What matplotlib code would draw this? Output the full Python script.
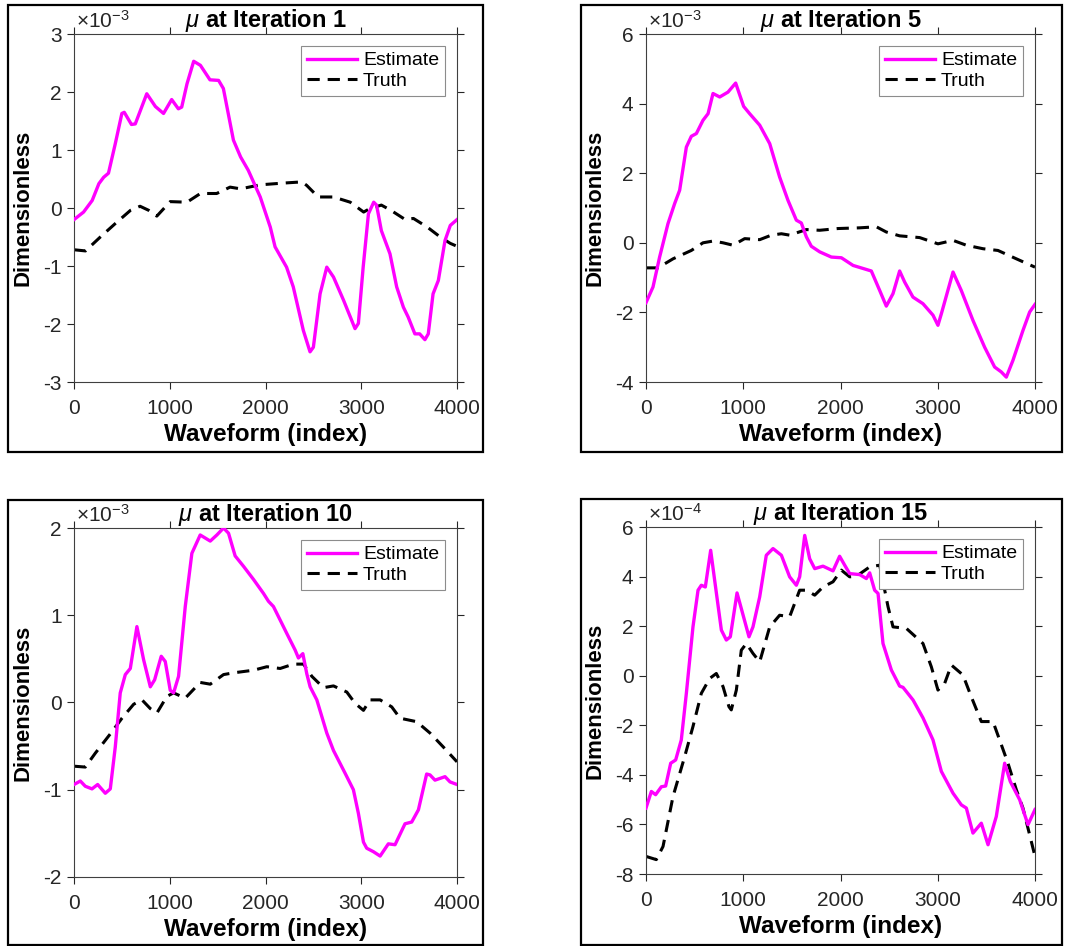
import matplotlib
matplotlib.use("Agg")
import matplotlib.pyplot as plt
from matplotlib.patches import Rectangle

plt.rcParams['font.family'] = ['Liberation Sans', 'DejaVu Sans']
plt.rcParams['mathtext.fontset'] = 'custom'
plt.rcParams['mathtext.rm'] = 'Liberation Sans'
plt.rcParams['mathtext.it'] = 'Liberation Sans:italic'
plt.rcParams['axes.unicode_minus'] = False

# values, y in units of the panel's scale
it1_est_x = [0, 100, 190, 260, 310, 360, 430, 500, 525, 600, 640, 760, 850, 935, 1020, 1090, 1125, 1180, 1250,
             1320, 1420, 1510, 1560, 1665, 1740, 1820, 1945, 2050, 2100, 2220, 2290, 2395, 2465, 2500, 2570, 2640,
             2710, 2815, 2935, 2970, 3020, 3075, 3130, 3160, 3210, 3300, 3370, 3440, 3490, 3560, 3610, 3665, 3700,
             3750, 3805, 3875, 3930, 4000]
it1_est_y = [-0.2, -0.07, 0.13, 0.42, 0.53, 0.6, 1.1, 1.63, 1.65, 1.44, 1.45, 1.97, 1.75, 1.63, 1.87, 1.71, 1.74, 2.14,
             2.53, 2.46, 2.21, 2.2, 2.06, 1.17, 0.88, 0.65, 0.19, -0.33, -0.67, -1.02, -1.36, -2.11, -2.48, -2.4,
             -1.48, -1.02, -1.19, -1.59, -2.08, -1.99, -1.02, -0.1, 0.1, 0.05, -0.39, -0.79, -1.36, -1.71, -1.88,
             -2.17, -2.17, -2.27, -2.17, -1.48, -1.25, -0.56, -0.3, -0.2]
it1_truth_x = [0, 120, 275, 430, 590, 690, 780, 865, 1005, 1180, 1320, 1490, 1630, 1740, 1945, 2190, 2380, 2430,
               2550, 2710, 2885, 3025, 3090, 3210, 3310, 3460, 3545, 3690, 3825, 3930, 4000]
it1_truth_y = [-0.72, -0.74, -0.5, -0.27, -0.04, 0.03, -0.04, -0.14, 0.11, 0.1, 0.25, 0.25, 0.36, 0.33, 0.4, 0.43,
               0.45, 0.39, 0.19, 0.19, 0.1, -0.07, -0.01, 0.05, -0.04, -0.2, -0.18, -0.33, -0.5, -0.61, -0.66]

it5_est_x = [0, 72, 140, 226, 295, 346, 415, 466, 518, 586, 638, 689, 758, 843, 922, 1004, 1066, 1169, 1272, 1374,
             1460, 1546, 1597, 1649, 1700, 1786, 1906, 2009, 2129, 2317, 2403, 2471, 2540, 2608, 2660, 2745, 2848,
             2951, 3002, 3037, 3157, 3242, 3362, 3482, 3585, 3653, 3705, 3773, 3876, 3945, 4000]
it5_est_y = [-1.72, -1.27, -0.41, 0.55, 1.13, 1.51, 2.75, 3.06, 3.14, 3.52, 3.71, 4.29, 4.19, 4.33, 4.59, 3.92, 3.71,
             3.38, 2.85, 1.89, 1.22, 0.65, 0.57, 0.17, -0.1, -0.26, -0.41, -0.43, -0.65, -0.81, -1.37, -1.82, -1.46,
             -0.81, -1.13, -1.56, -1.75, -2.08, -2.37, -2.04, -0.84, -1.37, -2.23, -3.0, -3.57, -3.71, -3.86, -3.38,
             -2.52, -1.99, -1.77]
it5_truth_x = [0, 123, 278, 466, 586, 689, 792, 895, 1015, 1169, 1289, 1392, 1477, 1649, 1786, 1974, 2197, 2369,
               2471, 2608, 2814, 3002, 3157, 3294, 3465, 3619, 3808, 4000]
it5_truth_y = [-0.72, -0.72, -0.46, -0.22, 0.0, 0.05, 0.0, -0.07, 0.12, 0.09, 0.22, 0.26, 0.22, 0.38, 0.36, 0.41,
               0.43, 0.46, 0.31, 0.2, 0.15, -0.03, 0.07, -0.07, -0.17, -0.22, -0.46, -0.70]

it10_est_x = [0, 66, 118, 188, 247, 327, 379, 431, 483, 536, 588, 657, 727, 797, 842, 911, 953, 1005, 1040, 1092,
              1162, 1231, 1318, 1423, 1492, 1562, 1614, 1683, 1771, 1875, 1979, 2031, 2083, 2223, 2310, 2344, 2390,
              2431, 2466, 2536, 2640, 2710, 2831, 2918, 2970, 3023, 3057, 3127, 3197, 3283, 3353, 3457, 3527, 3597,
              3683, 3718, 3770, 3875, 3927, 4000]
it10_est_y = [-0.94, -0.9, -0.96, -0.99, -0.94, -1.04, -0.99, -0.51, 0.11, 0.32, 0.39, 0.87, 0.49, 0.18, 0.26, 0.53,
              0.47, 0.14, 0.11, 0.3, 1.1, 1.71, 1.92, 1.85, 1.92, 2.0, 1.94, 1.68, 1.56, 1.41, 1.25, 1.16, 1.1, 0.79,
              0.6, 0.51, 0.56, 0.33, 0.18, 0.03, -0.35, -0.55, -0.81, -1.0, -1.27, -1.6, -1.67, -1.71, -1.76, -1.62,
              -1.63, -1.39, -1.37, -1.23, -0.82, -0.83, -0.89, -0.85, -0.91, -0.94]
it10_truth_x = [0, 118, 223, 379, 501, 623, 710, 797, 866, 970, 1040, 1162, 1318, 1423, 1562, 1666, 1875, 2014, 2153,
                2292, 2397, 2484, 2605, 2710, 2849, 2936, 3023, 3092, 3197, 3318, 3405, 3579, 3718, 3857, 4000]
it10_truth_y = [-0.73, -0.74, -0.58, -0.36, -0.18, -0.02, 0.03, -0.07, -0.12, 0.07, 0.11, 0.05, 0.23, 0.21, 0.32,
                0.34, 0.37, 0.41, 0.39, 0.44, 0.44, 0.3, 0.17, 0.19, 0.12, -0.01, -0.09, 0.03, 0.03, -0.05, -0.18,
                -0.22, -0.35, -0.51, -0.68]

it15_est_x = [0, 55, 99, 158, 202, 254, 305, 363, 415, 483, 535, 569, 610, 665, 706, 775, 826, 867, 936, 980, 1059,
              1100, 1169, 1237, 1306, 1392, 1477, 1546, 1580, 1632, 1683, 1735, 1820, 1923, 1991, 2043, 2094, 2197,
              2266, 2300, 2351, 2386, 2437, 2523, 2608, 2643, 2746, 2848, 2951, 3037, 3157, 3242, 3294, 3362, 3448,
              3517, 3602, 3688, 3746, 3842, 3928, 4000]
it15_est_y = [-5.34, -4.67, -4.8, -4.48, -4.45, -3.53, -3.4, -2.59, -0.71, 1.97, 3.45, 3.65, 3.58, 5.06, 3.85, 1.84,
              1.44, 1.57, 3.34, 2.71, 1.57, 1.97, 3.18, 4.86, 5.13, 4.86, 3.99, 3.65, 3.99, 5.66, 4.72, 4.32, 4.42,
              4.23, 4.82, 4.46, 4.12, 4.08, 3.92, 4.15, 3.45, 3.32, 1.30, 0.23, -0.42, -0.47, -0.98, -1.7, -2.59,
              -3.86, -4.74, -5.21, -5.34, -6.35, -5.95, -6.82, -5.68, -3.53, -4.27, -5.0, -6.01, -5.4]
it15_truth_x = [0, 106, 175, 278, 398, 483, 569, 655, 723, 792, 853, 877, 929, 980, 1032, 1100, 1169, 1272, 1374,
                1477, 1580, 1649, 1735, 1820, 1923, 2009, 2094, 2163, 2300, 2403, 2489, 2540, 2677, 2848, 2934, 3002,
                3071, 3140, 3259, 3345, 3448, 3568, 3636, 3722, 3808, 3876, 3945, 4000]
it15_truth_y = [-7.29, -7.42, -6.89, -4.87, -3.26, -2.05, -0.71, -0.11, 0.09, -0.44, -1.25, -1.38, -0.58, 1.03, 1.3,
                0.9, 0.56, 1.97, 2.44, 2.38, 3.45, 3.45, 3.25, 3.58, 3.79, 4.26, 3.99, 4.01, 4.39, 4.46, 2.78, 1.97,
                1.91, 1.30, 0.36, -0.58, -0.31, 0.43, 0.03, -0.85, -1.85, -1.85, -2.59, -3.53, -4.6, -5.34, -6.42,
                -7.29]

iterations = [1, 5, 10, 15]
exponents = [-3, -3, -3, -4]
y_limits = [(-3, 3), (-4, 6), (-2, 2), (-8, 6)]
y_steps = [1, 2, 1, 2]
x_ticks = [0, 1000, 2000, 3000, 4000]

W, H = 1073, 946
fig = plt.figure(figsize=(W / 100, H / 100), dpi=100)

# axes boxes and outer frames in pixels (left, top, right, bottom)
axes_px = [(74, 34, 457, 382), (646, 34, 1035, 382), (74, 528, 457, 877), (646, 527, 1035, 874)]
frames_px = [(8, 5, 483, 452), (581, 5, 1062, 452), (8, 500, 483, 945), (581, 499, 1062, 945)]

series = [
    (it1_est_x, it1_est_y, it1_truth_x, it1_truth_y),
    (it5_est_x, it5_est_y, it5_truth_x, it5_truth_y),
    (it10_est_x, it10_est_y, it10_truth_x, it10_truth_y),
    (it15_est_x, it15_est_y, it15_truth_x, it15_truth_y),
]

grey = '#262626'

for i in range(4):
    l, t, r, b = axes_px[i]
    ax = fig.add_axes([l / W, 1 - b / H, (r - l) / W, (b - t) / H])
    ex, ey, tx, ty = series[i]
    ax.plot(ex, ey, color='#ff00ff', lw=2.4, solid_joinstyle='round', label='Estimate', zorder=3)
    ax.plot(tx, ty, color='black', lw=2.2, dashes=(4, 2.6), label='Truth', zorder=2)

    lo, hi = y_limits[i]
    ax.set_xlim(0, 4000)
    ax.set_ylim(lo, hi)
    ax.set_xticks(x_ticks)
    ax.set_yticks(list(range(lo, hi + 1, y_steps[i])))
    ax.tick_params(direction='out', length=5, width=0.8, colors=grey, labelsize=15,
                   top=True, right=True)
    ax.tick_params(axis='x', pad=7)
    ax.tick_params(axis='y', pad=4)
    for s in ax.spines.values():
        s.set_color('#404040')
        s.set_linewidth(0.8)

    ax.set_xlabel('Waveform (index)', fontsize=17.5, fontweight='bold', labelpad=4)
    ax.set_ylabel('Dimensionless', fontsize=16, fontweight='bold', labelpad=7)
    ax.set_title(r'$\mu$ at Iteration %d' % iterations[i], fontsize=17, fontweight='bold', pad=5)
    ax.text(0.005, 1.005, r'$\times10^{%d}$' % exponents[i], transform=ax.transAxes,
            ha='left', va='bottom', fontsize=15, color=grey)

    leg = ax.legend(loc='upper right', bbox_to_anchor=(1 - 12 / (r - l), 1 - 12 / (b - t)),
                    borderaxespad=0, fontsize=14, fancybox=False, framealpha=1,
                    edgecolor='#8c8c8c', handlelength=2.6, handletextpad=0.3,
                    labelspacing=0.15, borderpad=0.3)
    leg.get_frame().set_linewidth(0.8)
    leg.set_zorder(5)

    fl, ft, fr, fb = frames_px[i]
    fig.patches.append(Rectangle((fl / W, 1 - fb / H), (fr - fl) / W, (fb - ft) / H,
                                 transform=fig.transFigure, fill=False, edgecolor='black', lw=1.6))

fig.savefig('out.png', dpi=100)
